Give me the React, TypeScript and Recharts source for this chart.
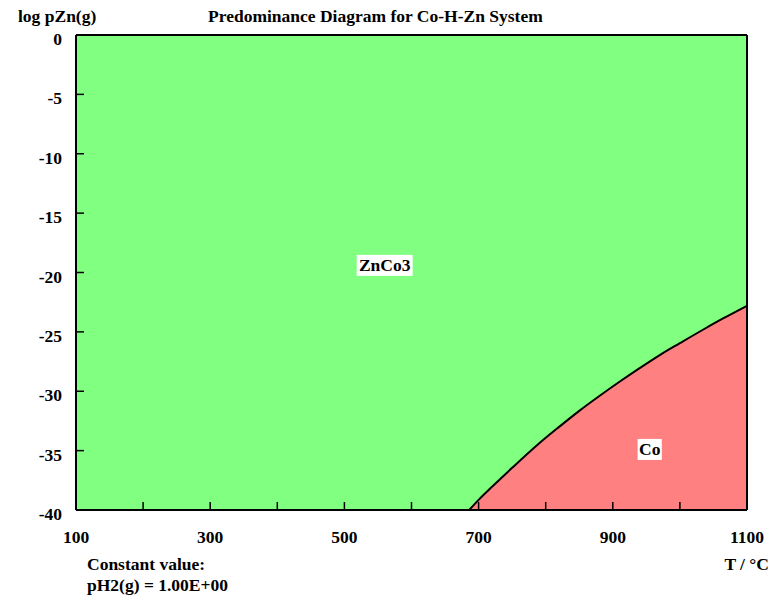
import {
  ComposedChart,
  Area,
  XAxis,
  YAxis,
  CartesianGrid,
  ReferenceDot,
} from 'recharts';

// phase boundary ZnCo3 / Co
const boundaryT = [686, 700, 720, 750, 790, 820, 850, 880, 910, 940, 970, 1000, 1035, 1065, 1100];
const boundaryLogP = [-40, -39.15, -38.05, -36.45, -34.4, -33.0, -31.65, -30.4, -29.2, -28.05, -26.95, -25.95, -24.8, -23.85, -22.8];

const xTicks = [100, 200, 300, 400, 500, 600, 700, 800, 900, 1000, 1100];
const xLabelled = [100, 300, 500, 700, 900, 1100];
const yTicks = [0, -5, -10, -15, -20, -25, -30, -35, -40];

const regionNames = ['ZnCo3', 'Co'];
const regionT = [560, 955];
const regionLogP = [-19.4, -34.9];

const data = boundaryT.map((T, i) => ({ T, logP: boundaryLogP[i] }));

const FONT = "'Liberation Serif', 'Times New Roman', serif";
const FS = 17.5;

const BottomTick = (props: any) => {
  const { x, y, payload } = props;
  return (
    <g>
      <line x1={x} y1={y} x2={x} y2={y - 8} stroke="#000" strokeWidth={1.5} />
      {xLabelled.includes(payload.value) && (
        <text x={x} y={y + 33} textAnchor="middle" fontFamily={FONT} fontWeight="bold" fontSize={FS} fill="#000">
          {payload.value}
        </text>
      )}
    </g>
  );
};

const TopTick = (props: any) => {
  const { x, y } = props;
  return <line x1={x} y1={y} x2={x} y2={y + 8} stroke="#000" strokeWidth={1.5} />;
};

const LeftTick = (props: any) => {
  const { x, y, payload } = props;
  return (
    <g>
      <line x1={x} y1={y} x2={x + 8} y2={y} stroke="#000" strokeWidth={1.5} />
      <text x={62} y={y + 10} textAnchor="end" fontFamily={FONT} fontWeight="bold" fontSize={FS} fill="#000">
        {payload.value}
      </text>
    </g>
  );
};

const RightTick = (props: any) => {
  const { x, y } = props;
  return <line x1={x} y1={y} x2={x - 8} y2={y} stroke="#000" strokeWidth={1.5} />;
};

const boxLabel = (name: string) => (props: any) => {
  const { cx, cy } = props;
  const w = name.length * 10.6 + 3;
  return (
    <g>
      <rect x={cx - w / 2} y={cy - 10.5} width={w} height={21} fill="#fff" />
      <text x={cx} y={cy + 6} textAnchor="middle" fontFamily={FONT} fontWeight="bold" fontSize={FS} fill="#000">
        {name}
      </text>
    </g>
  );
};

export default function App() {
  return (
    <div style={{ position: 'absolute', left: 0, top: 0, width: 776, height: 599, background: '#fff' }}>
      <ComposedChart
        width={776}
        height={599}
        data={data}
        margin={{ top: 25, right: 19, bottom: 59, left: 16 }}
      >
        <CartesianGrid horizontal={false} vertical={false} fill="#80ff80" fillOpacity={1} />
        <XAxis
          dataKey="T"
          type="number"
          domain={[100, 1100]}
          ticks={xTicks}
          interval={0}
          height={30}
          tickSize={0}
          tickMargin={0}
          tickLine={false}
          axisLine={{ stroke: '#000', strokeWidth: 2 }}
          tick={<BottomTick />}
        />
        <XAxis
          xAxisId="top"
          orientation="top"
          type="number"
          domain={[100, 1100]}
          ticks={xTicks}
          interval={0}
          height={10}
          tickSize={0}
          tickMargin={0}
          tickLine={false}
          axisLine={{ stroke: '#000', strokeWidth: 2 }}
          tick={<TopTick />}
        />
        <YAxis
          type="number"
          domain={[-40, 0]}
          ticks={yTicks}
          interval={0}
          width={60}
          tickSize={0}
          tickMargin={0}
          tickLine={false}
          axisLine={{ stroke: '#000', strokeWidth: 2 }}
          tick={<LeftTick />}
        />
        <YAxis
          yAxisId="right"
          orientation="right"
          type="number"
          domain={[-40, 0]}
          ticks={yTicks}
          interval={0}
          width={10}
          tickSize={0}
          tickMargin={0}
          tickLine={false}
          axisLine={{ stroke: '#000', strokeWidth: 2 }}
          tick={<RightTick />}
        />
        <Area
          type="monotone"
          dataKey="logP"
          baseValue={-40}
          fill="#ff8080"
          fillOpacity={1}
          stroke="#000"
          strokeWidth={2}
          dot={false}
          activeDot={false}
          isAnimationActive={false}
        />
        {regionNames.map((name, i) => (
          <ReferenceDot
            key={name}
            x={regionT[i]}
            y={regionLogP[i]}
            r={0}
            ifOverflow="visible"
            shape={boxLabel(name)}
          />
        ))}
      </ComposedChart>
      <svg
        width={776}
        height={599}
        style={{ position: 'absolute', left: 0, top: 0, pointerEvents: 'none' }}
        fontFamily={FONT}
        fontWeight="bold"
        fontSize={FS}
      >
        <text x={18} y={22}>log pZn(g)</text>
        <text x={208} y={22}>Predominance Diagram for Co-H-Zn System</text>
        <text x={769} y={570} textAnchor="end">T / °C</text>
        <text x={87} y={570}>Constant value:</text>
        <text x={87} y={591}>pH2(g) = 1.00E+00</text>
      </svg>
    </div>
  );
}
